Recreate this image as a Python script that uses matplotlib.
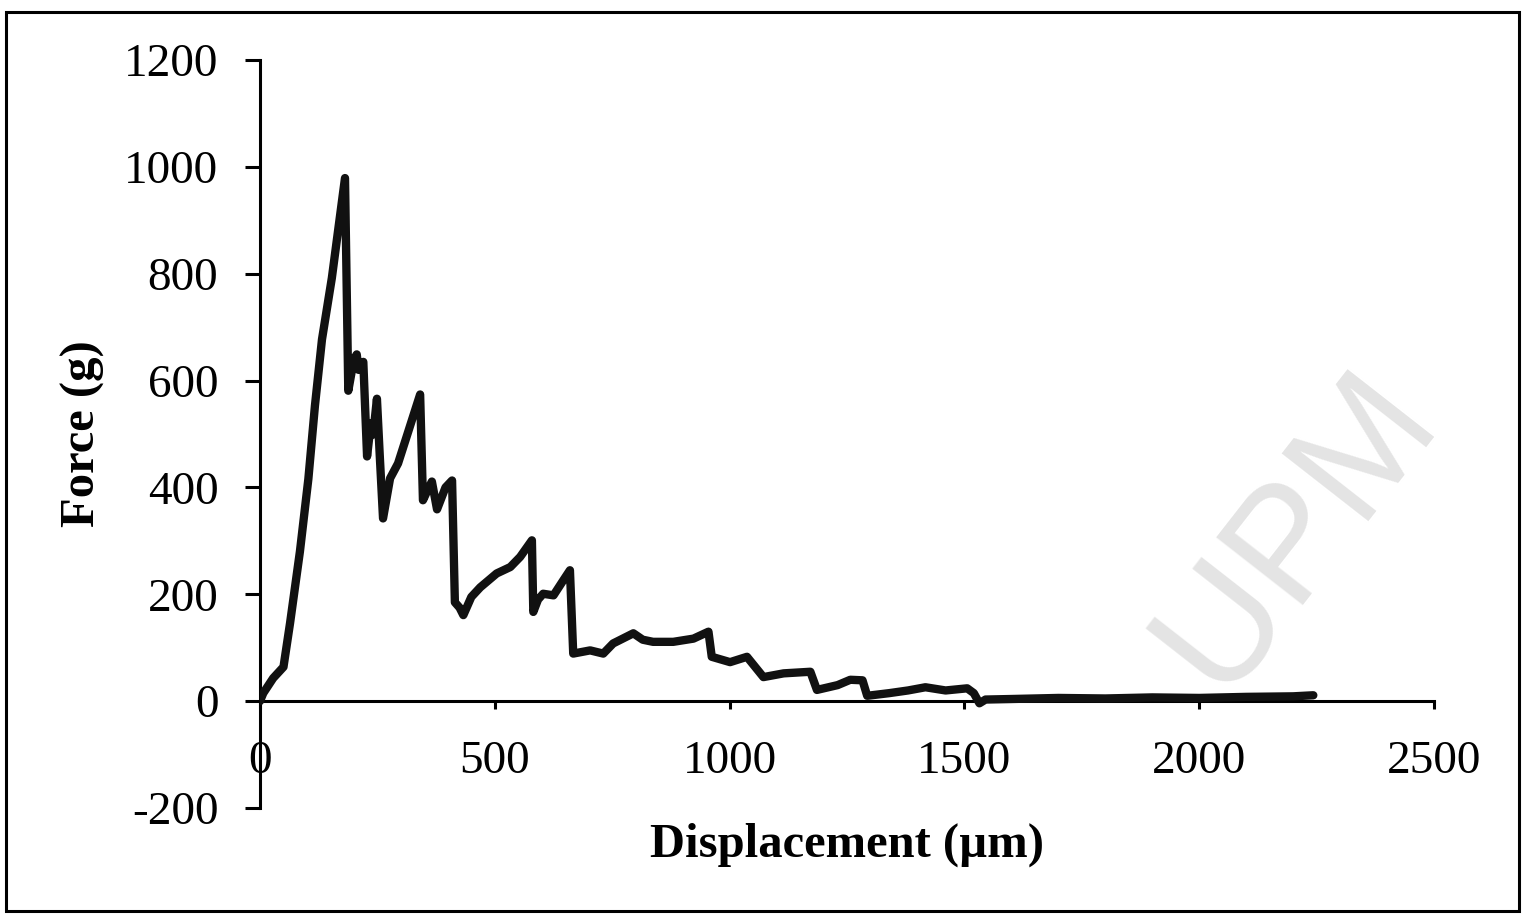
import matplotlib
matplotlib.use("Agg")
import matplotlib.pyplot as plt
from matplotlib.patches import Rectangle

# force-displacement trace
displacement = [0, 7, 28, 50, 64, 85, 103, 117, 132, 153, 181, 188, 200, 206, 210, 213,
                220, 228, 236, 241, 249, 255, 262, 277, 294, 341, 347, 357, 366, 377,
                395, 409, 415, 425, 433, 450, 469, 504, 533, 554, 579, 582, 592, 603,
                625, 645, 660, 667, 703, 731, 752, 795, 815, 837, 880, 923, 955, 962,
                1001, 1037, 1072, 1115, 1172, 1186, 1230, 1257, 1283, 1293, 1340, 1380,
                1417, 1460, 1506, 1520, 1532, 1545, 1600, 1700, 1800, 1900, 2000, 2100,
                2200, 2243]
force = [0, 15, 43, 64, 146, 280, 416, 553, 677, 792, 979, 581, 640, 649, 620, 628,
         635, 458, 520, 499, 566, 460, 342, 417, 445, 574, 376, 395, 411, 359,
         400, 413, 185, 175, 161, 195, 213, 239, 251, 270, 301, 167, 190, 201,
         198, 225, 245, 89, 95, 89, 108, 127, 115, 111, 111, 117, 130, 83,
         73, 83, 45, 52, 55, 21, 30, 40, 39, 10, 15, 20,
         26, 20, 24, 15, -4, 3, 4, 6, 5, 7, 6, 8,
         9, 11]

x_ticks = [0, 500, 1000, 1500, 2000, 2500]
y_ticks = [-200, 0, 200, 400, 600, 800, 1000, 1200]

plt.rcParams["font.family"] = ["Liberation Serif", "DejaVu Serif"]
plt.rcParams["axes.unicode_minus"] = False

fig = plt.figure(figsize=(15.26, 9.14), dpi=100)
ax = fig.add_axes([260 / 1526, 1 - 808 / 914, 1174 / 1526, 748 / 914])

# faint watermark text seen in the scan
fig.text(0.85, 0.42, "UPM", fontsize=115, color="#e4e4e4", rotation=52,
         ha="center", va="center", family="Liberation Sans", zorder=0)

ax.plot(displacement, force, color="#111111", lw=6, solid_joinstyle="round",
        solid_capstyle="round", zorder=3)

ax.set_xlim(0, 2500)
ax.set_ylim(-200, 1200)
ax.set_xticks(x_ticks)
ax.set_yticks(y_ticks)
ax.patch.set_alpha(0)

for side in ["top", "right"]:
    ax.spines[side].set_visible(False)
ax.spines["bottom"].set_position(("data", 0))
ax.spines["left"].set_position(("data", 0))
ax.spines["bottom"].set_linewidth(2.2)
ax.spines["left"].set_linewidth(2.2)

ax.tick_params(axis="y", direction="out", length=11, width=2.2, pad=19, labelsize=34)
ax.tick_params(axis="x", direction="out", length=6, width=2.2, pad=22, labelsize=34)

ax.set_xlabel("Displacement (µm)", fontsize=35, fontweight="bold")
ax.set_ylabel("Force (g)", fontsize=35, fontweight="bold")
ax.xaxis.set_label_coords(0.5, -0.02)
ax.yaxis.set_label_coords(-0.132, 0.5)

# border round the whole chart
fig.patches.append(Rectangle((6 / 1526, 3 / 914), 1513 / 1526, 899 / 914,
                             transform=fig.transFigure, fill=False,
                             lw=2.2, edgecolor="black"))

fig.savefig("out.png", dpi=100)
